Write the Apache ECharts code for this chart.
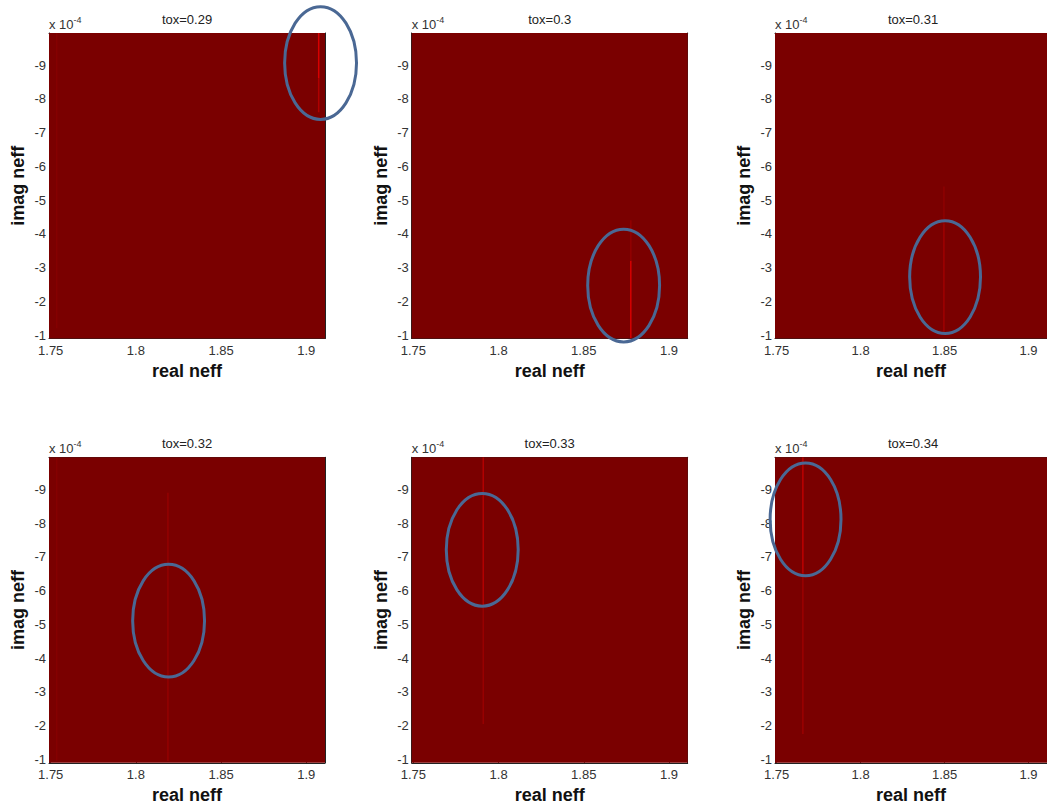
<!DOCTYPE html>
<html><head><meta charset="utf-8">
<script src="https://cdn.jsdelivr.net/npm/echarts@6/dist/echarts.min.js"></script>
<style>html,body{margin:0;padding:0;background:#fff}#c{width:1047px;height:805px}</style>
</head><body><div id="c"></div>
<script>
// ---- data ----
const toxLabels = ['tox=0.29', 'tox=0.3', 'tox=0.31', 'tox=0.32', 'tox=0.33', 'tox=0.34'];
const xTicks = [1.75, 1.8, 1.85, 1.9];
const yTicks = [-9, -8, -7, -6, -5, -4, -3, -2, -1];
const realRange = [1.749, 1.911];      // real neff extent of the map
const imagRange = [-9.95, -0.9];       // imag neff extent (x 1e-4)
// bright columns of the map: [real neff, imag start, imag end, relative intensity]
const streaks029 = [[1.9073, -9.95, -8.6, 0.7], [1.9073, -8.6, -7.6, 0.4], [1.7535, -9.95, -1.2, 0.08]];
const streaks030 = [[1.8776, -3.2, -0.9, 0.7], [1.8776, -4.4, -3.2, 0.18]];
const streaks031 = [[1.8496, -5.4, -4.3, 0.15], [1.8496, -4.3, -1.1, 0.28]];
const streaks032 = [[1.8188, -8.9, -0.95, 0.2], [1.7535, -9.95, -0.95, 0.08]];
const streaks033 = [[1.7910, -9.95, -5.5, 0.42], [1.7910, -5.5, -2.05, 0.22]];
const streaks034 = [[1.7656, -9.95, -6.5, 0.5], [1.7656, -6.5, -1.75, 0.25]];
// circled mode positions: [real neff, imag neff]
const circled = [[1.9084, -9.06], [1.8734, -2.47], [1.8503, -2.72], [1.8192, -5.11], [1.7904, -7.21], [1.7672, -8.11]];

const streaks = [streaks029, streaks030, streaks031, streaks032, streaks033, streaks034];

// ---- layout / style ----
const colLeft = [49, 411.7, 775];
const rowTop = [33, 457.3];
const W = 276, H = 305.5;
const FIELD = '#7a0000';
const AXC = '#222';
const FONT = 'Liberation Sans, Arial, sans-serif';
const ELL_RX = 0.0211, ELL_RY = 1.67;

const chart = echarts.init(document.getElementById('c'), null, {renderer: 'svg'});

const grids = [], xAxes = [], yAxes = [], series = [], titles = [], streakIdx = [];
for (let i = 0; i < 6; i++) {
  const L = colLeft[i % 3], T = rowTop[Math.floor(i / 3)];
  grids.push({left: L, top: T, width: W, height: H, show: false});
  const tickStyle = {lineStyle: {color: AXC, width: 1}};
  xAxes.push({
    gridIndex: i, type: 'value', position: 'bottom', min: realRange[0], max: realRange[1],
    axisLine: {show: true, onZero: false, lineStyle: {color: AXC, width: 1}},
    axisTick: {show: true, inside: true, length: 4, customValues: xTicks, ...tickStyle},
    axisLabel: {show: true, customValues: xTicks, margin: 5, fontSize: 13, color: '#333', fontFamily: FONT},
    splitLine: {show: false},
    name: 'real neff', nameLocation: 'middle', nameGap: 23,
    nameTextStyle: {fontSize: 18, fontWeight: 'bold', color: '#111', fontFamily: FONT}
  });
  xAxes.push({
    gridIndex: i, type: 'value', position: 'top', min: realRange[0], max: realRange[1],
    axisLine: {show: true, onZero: false, lineStyle: {color: AXC, width: 1}},
    axisTick: {show: true, inside: true, length: 4, customValues: xTicks, ...tickStyle},
    axisLabel: {show: false}, splitLine: {show: false}
  });
  yAxes.push({
    gridIndex: i, type: 'value', position: 'left', inverse: true, min: imagRange[0], max: imagRange[1],
    axisLine: {show: true, onZero: false, lineStyle: {color: AXC, width: 1}},
    axisTick: {show: true, inside: true, length: 4, customValues: yTicks, ...tickStyle},
    axisLabel: {show: true, customValues: yTicks, margin: 3, fontSize: 13, color: '#333', fontFamily: FONT},
    splitLine: {show: false},
    name: 'imag neff', nameLocation: 'middle', nameGap: 22, nameRotate: 90,
    nameTextStyle: {fontSize: 18, fontWeight: 'bold', color: '#111', fontFamily: FONT}
  });
  yAxes.push({
    gridIndex: i, type: 'value', position: 'right', inverse: true, min: imagRange[0], max: imagRange[1],
    axisLine: {show: true, onZero: false, lineStyle: {color: AXC, width: 1}},
    axisTick: {show: true, inside: true, length: 4, customValues: yTicks, ...tickStyle},
    axisLabel: {show: false}, splitLine: {show: false}
  });
  const xa = 2 * i, ya = 2 * i;
  // map field
  series.push({
    type: 'custom', xAxisIndex: xa, yAxisIndex: ya, z: 1, silent: true,
    data: [[realRange[0], realRange[1], imagRange[0], imagRange[1]]],
    renderItem: (p, api) => {
      const a = api.coord([api.value(0), api.value(2)]);
      const b = api.coord([api.value(1), api.value(3)]);
      return {type: 'rect', shape: {x: Math.min(a[0], b[0]), y: Math.min(a[1], b[1]), width: Math.abs(b[0] - a[0]), height: Math.abs(b[1] - a[1])}, style: {fill: FIELD}};
    }
  });
  // bright columns
  streakIdx.push(series.length);
  series.push({
    type: 'custom', xAxisIndex: xa, yAxisIndex: ya, z: 2, silent: true, clip: true,
    data: streaks[i],
    renderItem: (p, api) => {
      const a = api.coord([api.value(0), api.value(1)]);
      const b = api.coord([api.value(0), api.value(2)]);
      return {type: 'rect', shape: {x: a[0] - 0.75, y: Math.min(a[1], b[1]), width: 1.5, height: Math.abs(b[1] - a[1])}, style: {fill: api.visual('color')}};
    }
  });
  // annotation ellipse
  series.push({
    type: 'custom', xAxisIndex: xa, yAxisIndex: ya, z: 10, silent: true, clip: false,
    data: [circled[i]],
    renderItem: (p, api) => {
      const c = api.coord([api.value(0), api.value(1)]);
      const s = api.size([ELL_RX, ELL_RY]);
      return {type: 'ellipse', shape: {cx: c[0], cy: c[1], rx: s[0], ry: s[1]}, style: {fill: 'none', stroke: '#4a6894', lineWidth: 3}};
    }
  });
  titles.push({
    text: toxLabels[i], left: L + W / 2, top: T - 20, textAlign: 'center', padding: 0,
    textStyle: {fontSize: 13, fontWeight: 'normal', color: '#222', fontFamily: FONT}
  });
  titles.push({
    text: '{a|x 10}{b|-4}', left: L, top: T - 18, padding: 0,
    textStyle: {fontFamily: FONT, fontWeight: 'normal', rich: {
      a: {fontSize: 13, color: '#333', lineHeight: 16, verticalAlign: 'bottom', fontFamily: FONT, fontWeight: 'normal'},
      b: {fontSize: 9, color: '#333', lineHeight: 16, verticalAlign: 'top', fontFamily: FONT, fontWeight: 'normal'}
    }}
  });
}

chart.setOption({
  backgroundColor: '#fff',
  animation: false,
  title: titles,
  grid: grids,
  xAxis: xAxes,
  yAxis: yAxes,
  visualMap: {
    type: 'continuous', show: false, min: 0, max: 1, dimension: 3, seriesIndex: streakIdx,
    inRange: {color: [FIELD, '#ff0000']}
  },
  series: series
});
</script></body></html>
